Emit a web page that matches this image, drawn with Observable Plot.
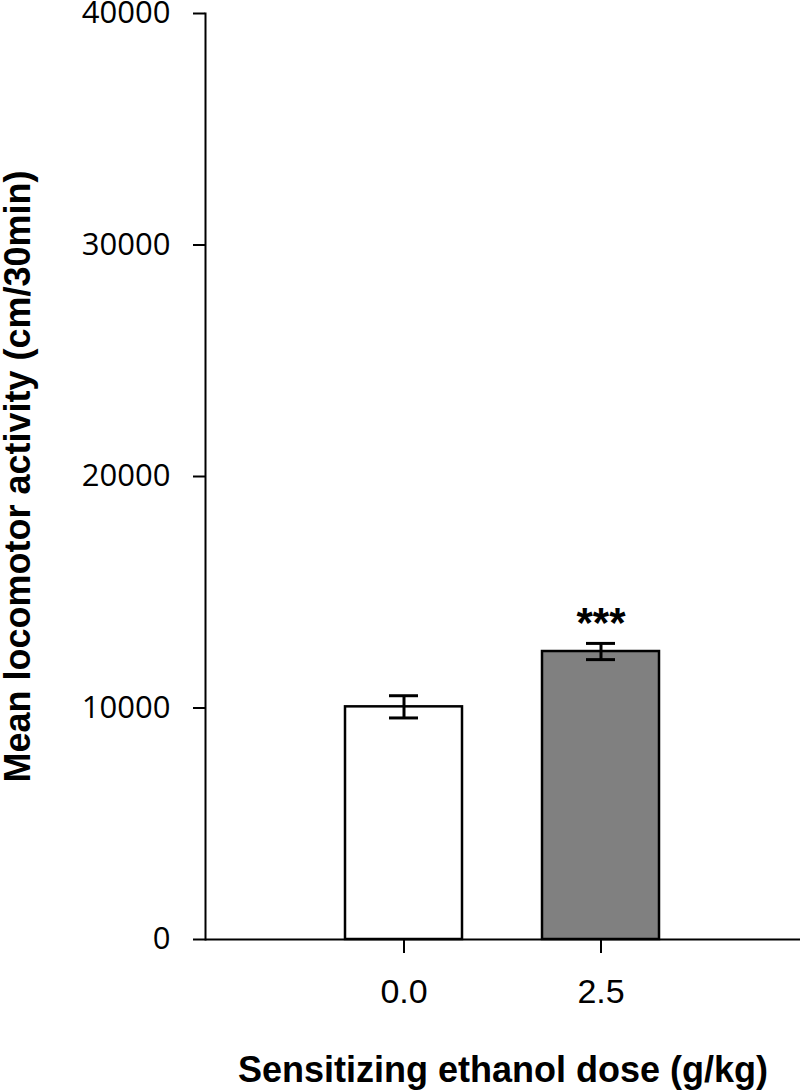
<!DOCTYPE html>
<html>
<head>
<meta charset="utf-8">
<script src="https://cdn.jsdelivr.net/npm/d3@7"></script>
<script src="https://cdn.jsdelivr.net/npm/@observablehq/plot@0.6"></script>
<style>
  body { margin: 0; background: white; }
  #chart svg { display: block; }
</style>
</head>
<body>
<div id="chart"></div>
<script>
// ---- data ----
const doses = ["0.0", "2.5"];
const means = [10050, 12440];
const sems = [480, 350];
const fills = ["#ffffff", "#808080"];
const sigLabels = ["", "***"];
const yTicks = [0, 10000, 20000, 30000, 40000];
const xLabel = "Sensitizing ethanol dose (g/kg)";
const yLabel = "Mean locomotor activity (cm/30min)";

const data = doses.map((d, i) => ({
  dose: d, mean: means[i], sem: sems[i], fill: fills[i], sig: sigLabels[i],
  lo: means[i] - sems[i], hi: means[i] + sems[i]
}));

const boldFont = "Liberation Sans, Arial, sans-serif";

const chart = Plot.plot({
  width: 800,
  height: 1091,
  marginLeft: 205,
  marginRight: 0,
  marginTop: 13,
  marginBottom: 152,
  style: { background: "white", overflow: "visible", color: "black" },
  x: { type: "band", domain: doses, paddingInner: 0.404, paddingOuter: 0.705, axis: null },
  y: { domain: [0, 40000], axis: null },
  color: { type: "identity" },
  marks: [
    Plot.barY(data, { x: "dose", y: "mean", fill: "fill", stroke: "black", strokeWidth: 2.5 }),
    Plot.ruleX(data, { x: "dose", y1: "lo", y2: "hi", stroke: "black", strokeWidth: 3 }),
    Plot.tickY(data, { x: "dose", y: "lo", stroke: "black", strokeWidth: 3, insetLeft: 44, insetRight: 44 }),
    Plot.tickY(data, { x: "dose", y: "hi", stroke: "black", strokeWidth: 3, insetLeft: 44, insetRight: 44 }),
    Plot.text(data, { x: "dose", y: "hi", text: "sig", dy: -20, lineAnchor: "middle", fontSize: 42, fontWeight: "bold", fontFamily: boldFont, fill: "black" }),
    Plot.ruleY([0], { stroke: "black", strokeWidth: 2 }),
    Plot.frame({ anchor: "left", stroke: "black", strokeWidth: 2 }),
    Plot.axisY({ ticks: yTicks, tickFormat: d => String(d), tickSize: 12, tickPadding: 23, fontSize: 31, fontFamily: "Open Sans, sans-serif", strokeWidth: 2, label: null }),
    Plot.axisX({ tickSize: 14, tickPadding: 25, fontSize: 34, fontFamily: "Liberation Sans, Arial, sans-serif", strokeWidth: 2, label: null }),
    Plot.text([yLabel], { frameAnchor: "left", textAnchor: "middle", lineAnchor: "middle", rotate: -90, dx: -187, text: d => d, fontSize: 36, fontWeight: "bold", fontFamily: boldFont, fill: "black" }),
    Plot.text([xLabel], { frameAnchor: "bottom", textAnchor: "middle", lineAnchor: "top", dy: 117, text: d => d, fontSize: 36, fontWeight: "bold", fontFamily: boldFont, fill: "black" })
  ]
});

document.getElementById("chart").appendChild(chart);
</script>
</body>
</html>
